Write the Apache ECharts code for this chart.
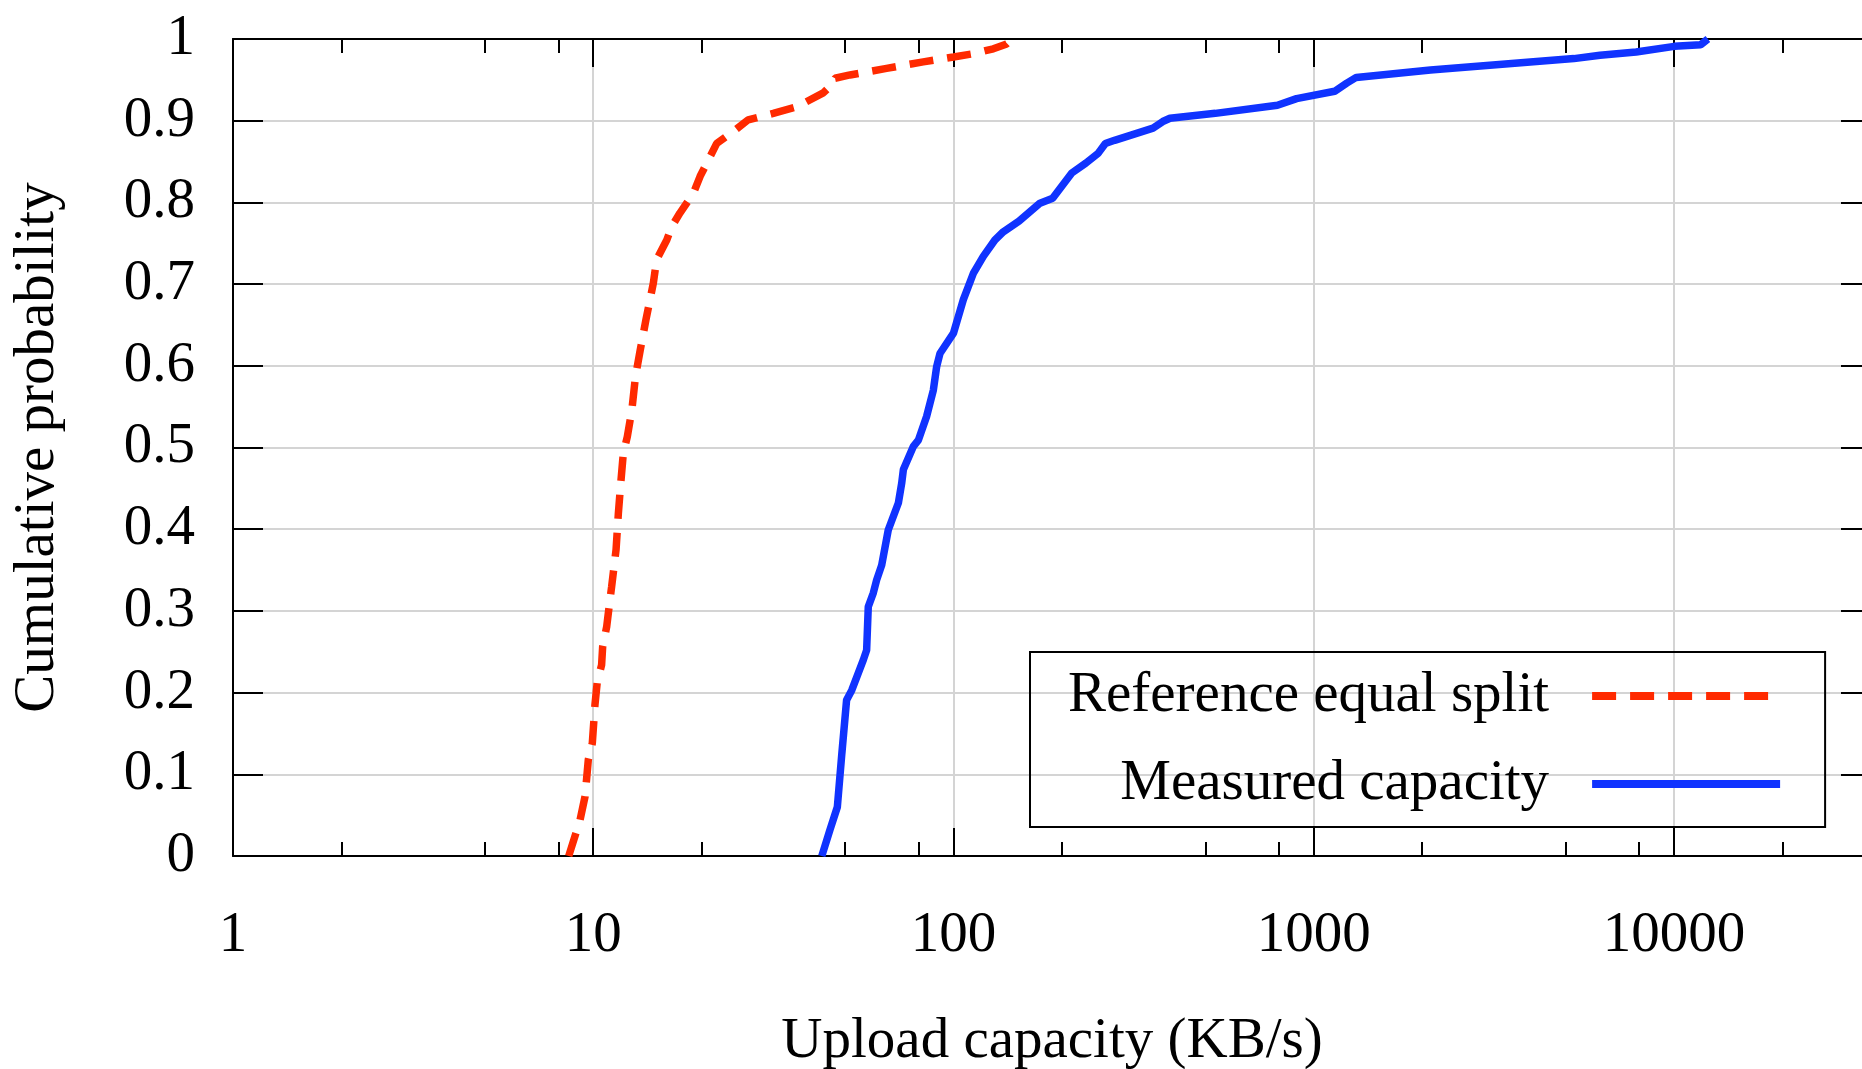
<!DOCTYPE html>
<html>
<head>
<meta charset="utf-8">
<script src="https://cdn.jsdelivr.net/npm/echarts@6.0.0/dist/echarts.min.js"></script>
<style>
html, body { margin: 0; padding: 0; background: #fff; }
#chart { width: 1862px; height: 1069px; }
</style>
</head>
<body>
<div id="chart"></div>
<script>
// upload rate (KB/s) and cumulative probability
const equalSplitRate = [8.55, 9.19, 9.49, 9.69, 9.94, 10.11, 10.26, 10.55, 10.62, 10.9, 11.08, 11.25, 11.57, 11.74, 11.92, 12.12, 12.43, 12.8, 13.1, 13.5, 14.0, 14.68, 15.0, 16.0, 16.5, 17.4, 18.96, 19.8, 21.1, 22.0, 24.5, 26.9, 31.6, 36.7, 43.5, 45.9, 46.9, 51.6, 65.2, 82.4, 100, 113.5, 129, 140.5, 145];
const equalSplitCdf = [0, 0.044, 0.073, 0.118, 0.138, 0.185, 0.213, 0.234, 0.256, 0.281, 0.307, 0.33, 0.375, 0.419, 0.456, 0.493, 0.513, 0.546, 0.587, 0.619, 0.656, 0.701, 0.730, 0.754, 0.770, 0.787, 0.811, 0.832, 0.856, 0.872, 0.887, 0.901, 0.909, 0.917, 0.934, 0.944, 0.952, 0.956, 0.964, 0.972, 0.978, 0.982, 0.988, 0.994, 1.0];
const measuredRate = [43.1, 45.4, 47.6, 49.0, 50.5, 52.2, 56.2, 57.4, 58.0, 59.9, 61.2, 63.2, 65.9, 70.3, 71.8, 72.6, 77.3, 79.9, 84.2, 87.9, 89.8, 91.7, 100, 106.5, 113.5, 121, 130.3, 137.5, 152, 173.8, 188.5, 213, 233, 252, 264, 280, 358, 381, 399, 533, 793, 896, 1143, 1235, 1312, 2109, 5275, 6232, 7850, 10020, 11860, 12420];
const measuredCdf = [0, 0.032, 0.060, 0.126, 0.191, 0.203, 0.240, 0.252, 0.305, 0.322, 0.338, 0.356, 0.399, 0.432, 0.456, 0.473, 0.501, 0.509, 0.538, 0.570, 0.599, 0.615, 0.640, 0.681, 0.713, 0.734, 0.754, 0.764, 0.777, 0.799, 0.805, 0.836, 0.848, 0.860, 0.872, 0.876, 0.891, 0.899, 0.903, 0.909, 0.919, 0.927, 0.936, 0.946, 0.953, 0.962, 0.976, 0.980, 0.984, 0.991, 0.993, 1.0];

const xMajorTicks = [1, 10, 100, 1000, 10000];
const xMinorTicks = [2, 5, 8, 20, 50, 80, 200, 500, 800, 2000, 5000, 8000, 20000];
const xMax = 35230;

const font = "'Liberation Serif', 'DejaVu Serif', serif";
const black = '#000';
const gridGray = '#d4d4d4';
const color = { equal: '#ff2a00', measured: '#1033ff' };
const equalDash = [24, 14];

const zip = (xs, ys) => xs.map((x, i) => [x, ys[i]]);

const chart = echarts.init(document.getElementById('chart'));

const xBase = function (pos, ticks, len, opts) {
    return Object.assign({
        type: 'log',
        logBase: 10,
        min: 1,
        max: xMax,
        position: pos,
        axisLine: { show: false },
        axisTick: { show: true, inside: true, length: len, customValues: ticks, lineStyle: { color: black, width: 2 } },
        axisLabel: { show: false },
        splitLine: { show: false },
    }, opts || {});
};

chart.setOption({
    animation: false,
    backgroundColor: '#fff',
    textStyle: { fontFamily: font },
    grid: { left: 233, right: -9, top: 39, bottom: 213, outerBoundsMode: 'none' },
    legend: {
        orient: 'vertical',
        left: 1030,
        top: 652,
        align: 'right',
        itemWidth: 188,
        itemHeight: 30,
        itemGap: 28,
        padding: [14, 41, 13, 38],
        borderColor: black,
        borderWidth: 2,
        itemStyle: { opacity: 0 },
        textStyle: { fontFamily: font, fontSize: 57, color: black, lineHeight: 60, padding: [0, 38, 0, 0] },
        data: [
            { name: 'Reference equal split', lineStyle: { color: color.equal, width: 8, type: equalDash } },
            { name: 'Measured capacity', lineStyle: { color: color.measured, width: 8, type: 'solid' } },
        ],
    },
    xAxis: [
        xBase('bottom', xMajorTicks, 28, {
            axisLine: { show: true, lineStyle: { color: black, width: 2 } },
            axisLabel: {
                show: true, customValues: xMajorTicks, margin: 52,
                fontFamily: font, fontSize: 57, color: black,
                formatter: (v) => String(Math.round(v)),
            },
            splitLine: { show: true, lineStyle: { color: gridGray, width: 2 } },
            name: 'Upload capacity (KB/s)',
            nameLocation: 'middle',
            nameGap: 158,
            nameTextStyle: { fontFamily: font, fontSize: 57, color: black },
        }),
        xBase('bottom', xMinorTicks, 14),
        xBase('top', xMajorTicks, 28, { axisLine: { show: true, lineStyle: { color: black, width: 2 } } }),
        xBase('top', xMinorTicks, 14),
    ],
    yAxis: [
        {
            type: 'value',
            min: 0,
            max: 1,
            interval: 0.1,
            position: 'left',
            axisLine: { show: true, lineStyle: { color: black, width: 2 } },
            axisTick: { show: true, inside: true, length: 30, lineStyle: { color: black, width: 2 } },
            axisLabel: { fontFamily: font, fontSize: 57, color: black, margin: 38 },
            splitLine: { show: true, lineStyle: { color: gridGray, width: 2 } },
            name: 'Cumulative probability',
            nameLocation: 'middle',
            nameGap: 166,
            nameTextStyle: { fontFamily: font, fontSize: 57, color: black },
        },
        {
            type: 'value',
            min: 0,
            max: 1,
            interval: 0.1,
            position: 'right',
            axisLine: { show: true, lineStyle: { color: black, width: 2 } },
            axisTick: { show: true, inside: true, length: 30, lineStyle: { color: black, width: 2 } },
            axisLabel: { show: false },
            splitLine: { show: false },
        },
    ],
    series: [
        {
            name: 'Reference equal split',
            type: 'line',
            xAxisIndex: 0,
            yAxisIndex: 0,
            showSymbol: false,
            symbol: 'none',
            color: color.equal,
            lineStyle: { color: color.equal, width: 7.5, type: equalDash },
            data: zip(equalSplitRate, equalSplitCdf),
        },
        {
            name: 'Measured capacity',
            type: 'line',
            xAxisIndex: 0,
            yAxisIndex: 0,
            showSymbol: false,
            symbol: 'none',
            color: color.measured,
            lineStyle: { color: color.measured, width: 7.5 },
            data: zip(measuredRate, measuredCdf),
        },
    ],
});
</script>
</body>
</html>
